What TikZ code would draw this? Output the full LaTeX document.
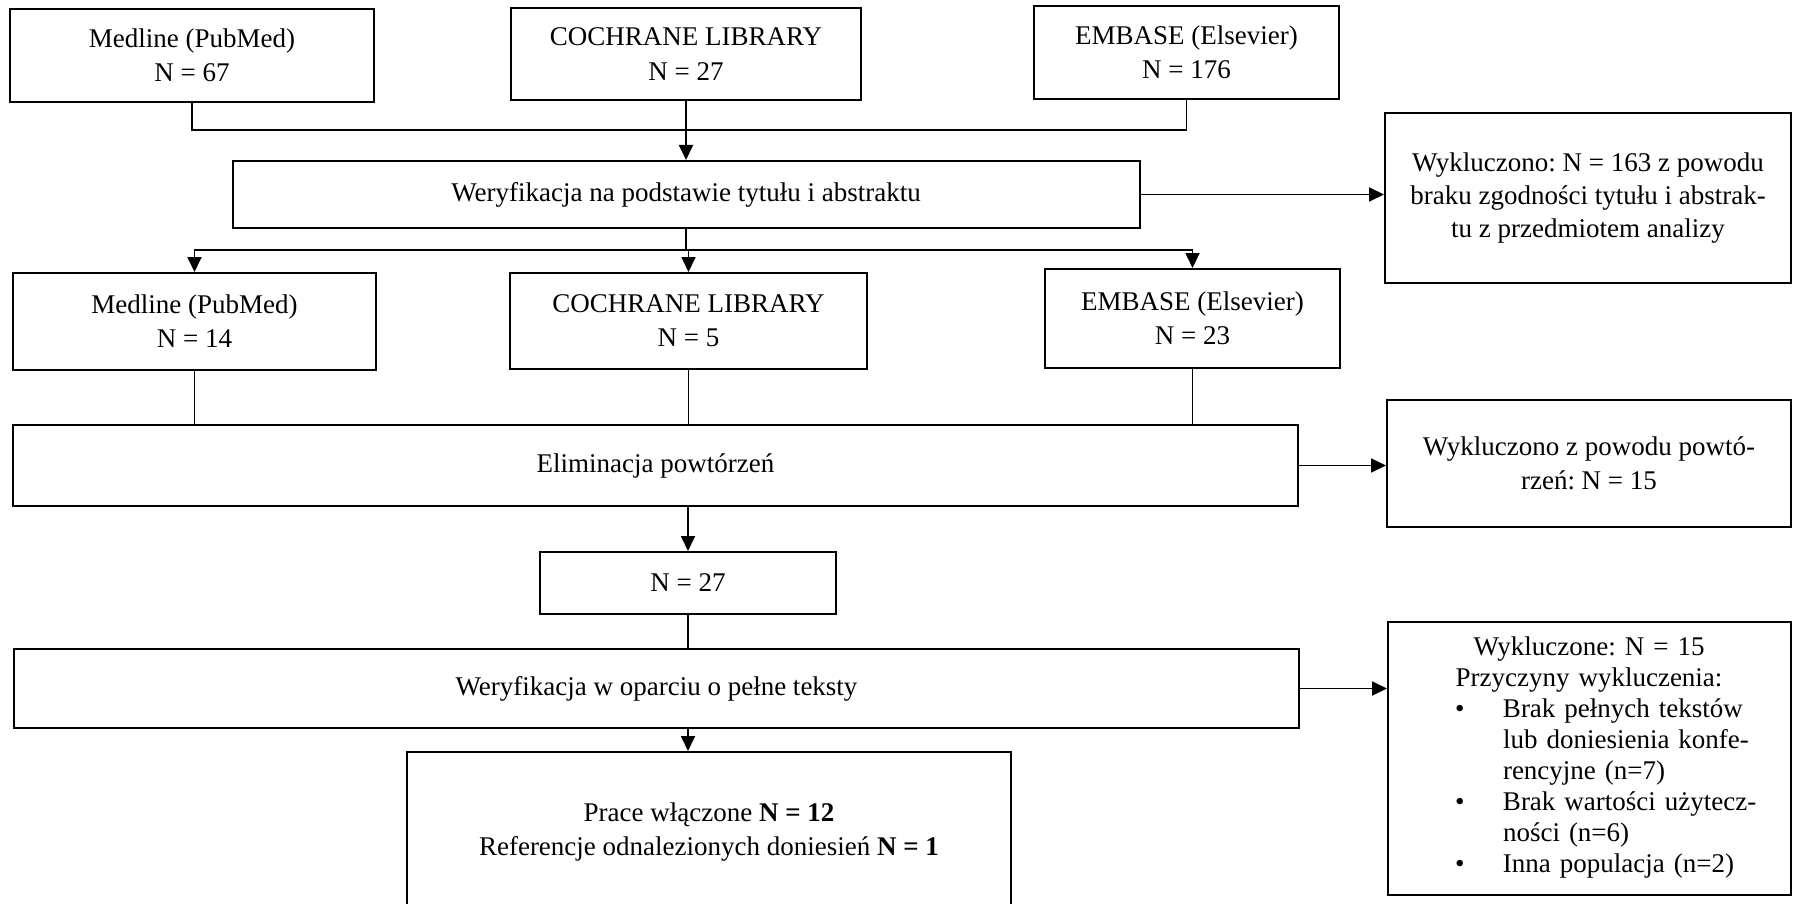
\documentclass[tikz,border=0pt]{standalone}
\usepackage{fontspec}
\setmainfont{Liberation Serif}
\usetikzlibrary{arrows.meta}

\newcommand{\listbul}{\hspace*{23pt}\makebox[24pt][l]{\textbullet}}
\newcommand{\listind}{\hspace*{47pt}}

\begin{document}
\frenchspacing
\begin{tikzpicture}[x=0.5pt, y=-0.5pt, align=center, font=\fontsize{13.5pt}{15.5pt}\selectfont,
  box/.style={draw, line width=1pt, inner sep=0pt},
  conn/.style={line width=0.9pt},
  arr/.style={conn, -{Triangle[length=7.5pt, width=7pt]}}]

\useasboundingbox (0,0) rectangle (1793,904);

% Databases
\node[box, minimum width=182pt, minimum height=46.5pt] (src1) at (192,55.5) {Medline (PubMed)\\[1.6pt]N = 67};
\node[box, minimum width=175pt, minimum height=46pt] (src2) at (686,54) {COCHRANE LIBRARY\\[1.6pt]N = 27};
\node[box, minimum width=152.5pt, minimum height=46.5pt] (src3) at (1186.5,52.5) {EMBASE (Elsevier)\\[1.6pt]N = 176};

% Screening
\node[box, minimum width=453.5pt, minimum height=33.5pt] (screen) at (686,194.5) {Weryfikacja na podstawie tytułu i abstraktu};
\node[box, minimum width=203pt, minimum height=85pt] (excl1) at (1588,198) {Wykluczono: N = 163 z powodu\\[1.2pt]braku zgodności tytułu i abstrak-\\[1.2pt]tu z przedmiotem analizy};

% After screening
\node[box, minimum width=181.5pt, minimum height=48.5pt] (r2a) at (194.5,321.5) {Medline (PubMed)\\[1.6pt]N = 14};
\node[box, minimum width=178.5pt, minimum height=48pt] (r2b) at (688.5,321) {COCHRANE LIBRARY\\[1.6pt]N = 5};
\node[box, minimum width=147.5pt, minimum height=49.5pt] (r2c) at (1192.5,318.5) {EMBASE (Elsevier)\\[1.6pt]N = 23};

% Duplicates
\node[box, minimum width=642.5pt, minimum height=40.5pt] (dedup) at (655.5,465.5) {Eliminacja powtórzeń};
\node[box, minimum width=202pt, minimum height=63.5pt] (excl2) at (1589,463.5) {Wykluczono z powodu powtó-\\[1.6pt]rzeń: N = 15};
\node[box, minimum width=148pt, minimum height=31pt] (n27) at (688,583) {N = 27};

% Full texts
\node[box, minimum width=642.5pt, minimum height=39.5pt] (fulltext) at (656.5,688.5) {Weryfikacja w oparciu o pełne teksty};
\node[box, minimum width=201.5pt, minimum height=136.5pt] (excl3) at (1589.5,758.5) {};
\node[anchor=north, inner sep=0pt, text width=180pt, align=left] (excl3txt) at (1589,636) {%
  \setlength{\parindent}{0pt}{\centering Wykluczone: N = 15\\Przyczyny wykluczenia:\par}
  \listbul Brak pełnych tekstów\\
  \listind lub doniesienia konfe-\\
  \listind rencyjne (n=7)\\
  \listbul Brak wartości użytecz-\\
  \listind ności (n=6)\\
  \listbul Inna populacja (n=2)};

% Result
\node[box, minimum width=302pt, minimum height=80pt] (final) at (709,832) {Prace włączone \textbf{N = 12}\\[1.6pt]Referencje odnalezionych doniesień \textbf{N = 1}};

% Arrows
\coordinate (joinB) at (686,130);
\coordinate (splitB) at (686,250);
\foreach \n in {src1,src3} \draw[conn] (\n.south) |- (joinB);
\draw[arr] (src2.south) -- (screen.north);
\draw[arr] (screen.east) -- (screen.east -| excl1.west);
\draw[conn] (screen.south) -- (splitB);
\foreach \n in {r2a,r2b,r2c} \draw[arr] (splitB) -| (\n.north);
\foreach \n in {r2a,r2b,r2c} \draw[conn] (\n.south) -- (\n.south |- dedup.north);
\draw[arr] (dedup.east) -- (dedup.east -| excl2.west);
\draw[arr] (n27.north |- dedup.south) -- (n27.north);
\draw[conn] (n27.south) -- (n27.south |- fulltext.north);
\draw[arr] (fulltext.east) -- (fulltext.east -| excl3.west);
\draw[arr] (n27.south |- fulltext.south) -- (n27.south |- final.north);

\end{tikzpicture}
\end{document}
